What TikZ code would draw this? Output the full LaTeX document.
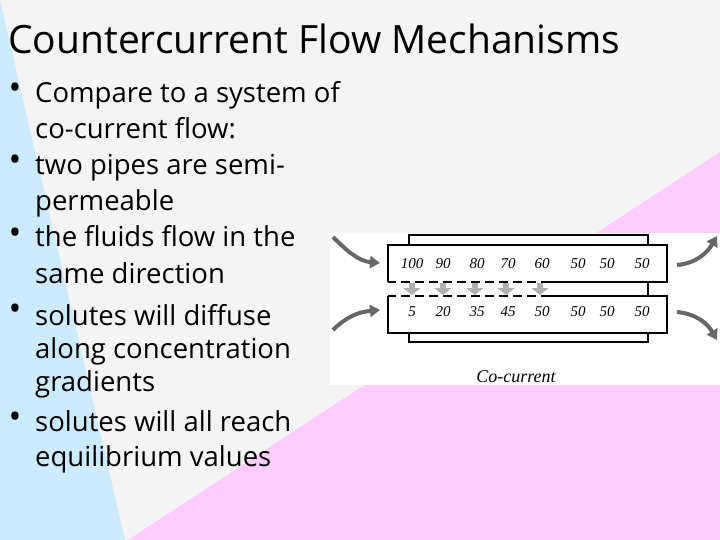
\documentclass[tikz,border=0pt]{standalone}
\usepackage{fontspec}
\setmainfont{Open Sans}
\newfontfamily\numfont{Liberation Serif}
\usetikzlibrary{arrows.meta}
\definecolor{bgray}{HTML}{F4F4F4}
\definecolor{bblue}{HTML}{CCEBFF}
\definecolor{bpink}{HTML}{FFCCFF}
\definecolor{flowgray}{HTML}{666666}
\definecolor{diffgray}{HTML}{B0B0B0}
\tikzset{
  line/.style={font=\fontsize{27.5}{27.5}\selectfont, anchor=base west, inner sep=0pt},
  dot/.style={font=\fontsize{34}{34}\selectfont, anchor=base, inner sep=0pt},
  val/.style={font=\numfont\itshape\fontsize{15}{15}\selectfont, inner sep=0pt},
  pipe/.style={line width=2pt},
  flow/.style={flowgray, line width=4pt, -{Triangle[length=10pt,width=12pt]}},
  diff/.style={diffgray, line width=6pt, -{Triangle[length=7pt,width=17pt]}}
}
\begin{document}
\begin{tikzpicture}[x=1pt,y=-1pt]
  % Hintergrund
  \useasboundingbox (0,0) rectangle (720,540);
  \fill[bgray] (0,0) rectangle (720,540);
  \fill[bblue] (0,0) -- (125,540) -- (0,540) -- cycle;
  \fill[bpink] (128,540) -- (720,152) -- (720,540) -- cycle;

  % Titolo e punti elenco
  \node[line, font=\fontsize{39}{39}\selectfont] (title) at (8,54) {Countercurrent Flow Mechanisms};
  \foreach \y in {103,175,247,323,431} \node[dot] at (15,\y-3) {•};
  \node[line] (l1) at (35,103) {Compare to a system of};
  \node[line] (l2) at (35,139) {co-current flow:};
  \node[line] (l3) at (35,175) {two pipes are semi-};
  \node[line] (l4) at (35,211) {permeable};
  \node[line] (l5) at (35,247) {the fluids flow in the};
  \node[line] (l6) at (35,283) {same direction};
  \node[line] (l7) at (35,325) {solutes will diffuse};
  \node[line] (l8) at (35,358) {along concentration};
  \node[line] (l9) at (35,391) {gradients};
  \node[line] (l10) at (35,431) {solutes will all reach};
  \node[line] (l11) at (35,466) {equilibrium values};

  % Figura co-corrente
  \fill[white] (330,233) rectangle (720,385);
  \draw[pipe] (409,245) -- (409,235) -- (648,235) -- (648,245);
  \draw[pipe] (409,333) -- (409,342) -- (648,342) -- (648,333);
  \draw[pipe] (388,282) -- (388,245) -- (667,245) -- (667,282) -- (550,282);
  \draw[pipe, dash pattern=on 9pt off 5pt] (550,282) -- (388,282);
  \draw[pipe] (388,296) -- (388,333) -- (667,333) -- (667,296) -- (550,296);
  \draw[pipe, dash pattern=on 9pt off 5pt] (550,296) -- (388,296);
  \draw[pipe] (648,282) -- (648,296);

  % Valori
  \foreach \x/\a/\b [count=\i] in {412/100/5, 443/90/20, 477/80/35, 508/70/45, 542/60/50, 578/50/50, 607/50/50, 642/50/50}{
    \node[val] (top\i) at (\x,264) {\a};
    \node[val] (bot\i) at (\x,312) {\b};
  }
  \foreach \x in {412,443,475,506,540} \draw[diff] (\x,283) -- (\x,295);

  % Frecce di flusso
  \draw[flow] (333,237) to[out=-45,in=175] (380,263);
  \draw[flow] (333,330) to[out=45,in=185] (380,310);
  \draw[flow] (677,265) to[out=5,in=-120] (717,236);
  \draw[flow] (677,312) to[out=-5,in=120] (717,340);
  \node[font=\numfont\itshape\fontsize{18}{18}\selectfont] (cap) at (516,377) {Co-current};
\end{tikzpicture}
\end{document}
